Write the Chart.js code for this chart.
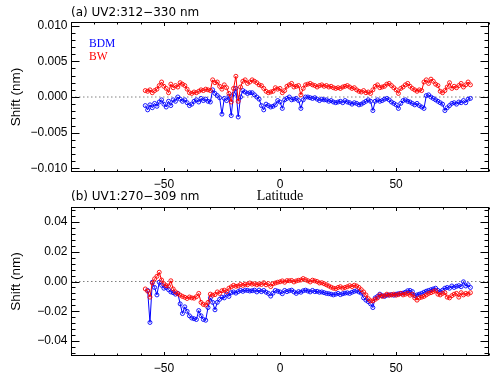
<!DOCTYPE html>
<html>
<head>
<meta charset="utf-8">
<script src="https://cdn.jsdelivr.net/npm/chart.js@4"></script>
<style>
    html, body { margin: 0; padding: 0; background: #fff; }
    #wrap { position: relative; width: 500px; height: 379px; overflow: hidden; }
    canvas { position: absolute; left: 0; }
    #chartA { top: 0; }
    #chartB { top: 190px; }
</style>
</head>
<body>
<div id="wrap">
    <canvas id="chartA" width="500" height="205"></canvas>
    <canvas id="chartB" width="500" height="189"></canvas>
</div>
<script>
// --- Data ---
const latitude = [
    -58, -57, -56, -55, -54, -53, -52, -51, -50, -49,
    -48, -47, -46, -45, -44, -43, -42, -41, -40, -39,
    -38, -37, -36, -35, -34, -33, -32, -31, -30, -29,
    -28, -27, -26, -25, -24, -23, -22, -21, -20, -19,
    -18, -17, -16, -15, -14, -13, -12, -11, -10, -9,
    -8, -7, -6, -5, -4, -3, -2, -1, 0, 1,
    2, 3, 4, 5, 6, 7, 8, 9, 10, 11,
    12, 13, 14, 15, 16, 17, 18, 19, 20, 21,
    22, 23, 24, 25, 26, 27, 28, 29, 30, 31,
    32, 33, 34, 35, 36, 37, 38, 39, 40, 41,
    42, 43, 44, 45, 46, 47, 48, 49, 50, 51,
    52, 53, 54, 55, 56, 57, 58, 59, 60, 61,
    62, 63, 64, 65, 66, 67, 68, 69, 70, 71,
    72, 73, 74, 75, 76, 77, 78, 79, 80, 81, 82
];

// (a) UV2: 312-330 nm
const bdmUV2 = [
    -0.0012, -0.0018, -0.0011, -0.0015, -0.0009, -0.0013, -0.0007, -0.0004, -0.0010, -0.0014,
    -0.0006, -0.0012, -0.0004, -0.0006, 0.0000, -0.0003, -0.0006, -0.0004, -0.0008, -0.0012,
    -0.0010, -0.0006, -0.0004, -0.0007, -0.0002, -0.0005, -0.0003, -0.0006, -0.0007, 0.0010,
    0.0005, 0.0002, -0.0001, -0.0024, -0.0002, -0.0005, 0.0001, -0.0026, 0.0004, 0.0012,
    -0.0028, 0.0000, 0.0009, 0.0007, 0.0005, 0.0006, 0.0006, 0.0003, 0.0000, -0.0003,
    -0.0012, -0.0018, -0.0010, -0.0012, -0.0014, -0.0013, -0.0011, -0.0005, -0.0007, -0.0016,
    -0.0004, -0.0002, 0.0000, -0.0004, -0.0003, -0.0002, -0.0005, -0.0016, -0.0004, 0.0000,
    0.0000, -0.0001, -0.0002, -0.0001, -0.0003, -0.0005, -0.0003, -0.0004, -0.0004, -0.0006,
    -0.0005, -0.0007, -0.0008, -0.0007, -0.0006, -0.0008, -0.0005, -0.0007, -0.0008, -0.0010,
    -0.0008, -0.0009, -0.0011, -0.0010, -0.0008, -0.0006, -0.0004, -0.0006, -0.0019, -0.0006,
    -0.0004, -0.0006, -0.0005, -0.0003, -0.0002, -0.0004, -0.0007, -0.0009, -0.0011, -0.0016,
    -0.0009, -0.0005, -0.0004, -0.0006, -0.0007, -0.0009, -0.0011, -0.0009, -0.0012, -0.0014,
    -0.0016, 0.0002, 0.0003, 0.0000, -0.0002, -0.0004, -0.0006, -0.0008, -0.0010, -0.0019,
    -0.0015, -0.0012, -0.0009, -0.0008, -0.0010, -0.0007, -0.0008, -0.0005, -0.0008, -0.0003, -0.0002
];
const bwUV2 = [
    0.0009, 0.0008, 0.0010, 0.0006, 0.0009, 0.0011, 0.0016, 0.0021, 0.0015, 0.0012,
    0.0006, 0.0018, 0.0013, 0.0016, 0.0014, 0.0020, 0.0018, 0.0016, 0.0011, 0.0006,
    0.0005, 0.0007, 0.0006, 0.0008, 0.0010, 0.0009, 0.0011, 0.0010, 0.0009, 0.0024,
    0.0020, 0.0021, 0.0015, 0.0011, 0.0017, 0.0013, 0.0005, -0.0007, 0.0012, 0.0029,
    -0.0006, 0.0014, 0.0022, 0.0024, 0.0019, 0.0021, 0.0024, 0.0022, 0.0020, 0.0017,
    0.0016, 0.0012, 0.0008, 0.0006, 0.0007, 0.0008, 0.0013, 0.0011, 0.0012, 0.0006,
    0.0009, 0.0015, 0.0017, 0.0019, 0.0014, 0.0015, 0.0016, 0.0003, 0.0012, 0.0017,
    0.0018, 0.0019, 0.0017, 0.0016, 0.0014, 0.0016, 0.0017, 0.0015, 0.0016, 0.0014,
    0.0015, 0.0013, 0.0012, 0.0013, 0.0012, 0.0014, 0.0015, 0.0016, 0.0014, 0.0012,
    0.0013, 0.0010, 0.0008, 0.0007, 0.0009, 0.0006, 0.0007, 0.0005, 0.0010, 0.0015,
    0.0017, 0.0013, 0.0014, 0.0015, 0.0018, 0.0019, 0.0016, 0.0013, 0.0010, 0.0005,
    0.0012, 0.0014, 0.0017, 0.0019, 0.0015, 0.0012, 0.0010, 0.0008, 0.0010, 0.0009,
    0.0021, 0.0024, 0.0019, 0.0025, 0.0022, 0.0018, 0.0016, 0.0008, 0.0006, 0.0009,
    0.0014, 0.0020, 0.0012, 0.0015, 0.0013, 0.0016, 0.0019, 0.0014, 0.0017, 0.0021, 0.0017
];

// (b) UV1: 270-309 nm
const bdmUV1 = [
    null, -0.0060, -0.0275, -0.0005, -0.0040, -0.0090, -0.0005, -0.0025, -0.0045, -0.0040,
    -0.0055, -0.0070, -0.0075, -0.0085, -0.0080, -0.0150, -0.0215, -0.0170, -0.0200, -0.0230,
    -0.0245, -0.0250, -0.0255, -0.0195, -0.0230, -0.0255, -0.0260, -0.0175, -0.0110, -0.0140,
    -0.0190, -0.0140, -0.0120, -0.0105, -0.0110, -0.0085, -0.0100, -0.0075, -0.0070, -0.0078,
    -0.0068, -0.0060, -0.0066, -0.0058, -0.0060, -0.0064, -0.0062, -0.0058, -0.0070, -0.0058,
    -0.0068, -0.0060, -0.0072, -0.0080, -0.0098, -0.0078, -0.0060, -0.0065, -0.0070, -0.0082,
    -0.0060, -0.0068, -0.0062, -0.0058, -0.0070, -0.0080, -0.0068, -0.0072, -0.0062, -0.0058,
    -0.0064, -0.0070, -0.0060, -0.0068, -0.0066, -0.0072, -0.0070, -0.0075, -0.0080, -0.0082,
    -0.0085, -0.0090, -0.0085, -0.0080, -0.0088, -0.0082, -0.0078, -0.0076, -0.0080, -0.0072,
    -0.0066, -0.0062, -0.0070, -0.0078, -0.0110, -0.0125, -0.0135, -0.0150, -0.0175, -0.0110,
    -0.0100, -0.0085, -0.0095, -0.0100, -0.0092, -0.0090, -0.0088, -0.0092, -0.0085, -0.0082,
    -0.0080, -0.0078, -0.0072, -0.0062, -0.0060, -0.0068, -0.0095, -0.0090, -0.0085, -0.0080,
    -0.0072, -0.0065, -0.0060, -0.0055, -0.0050, -0.0045, -0.0060, -0.0068, -0.0058, -0.0045,
    -0.0040, -0.0045, -0.0030, -0.0040, -0.0032, -0.0028, -0.0035, -0.0002, -0.0030, -0.0022, -0.0040
];
const bwUV1 = [
    -0.0050, -0.0065, -0.0105, -0.0010, 0.0018, 0.0035, 0.0062, 0.0010, -0.0015, -0.0028,
    -0.0030, 0.0005, -0.0050, -0.0070, -0.0082, -0.0091, -0.0100, -0.0106, -0.0114, -0.0104,
    -0.0110, -0.0112, -0.0102, -0.0080, -0.0140, -0.0154, -0.0158, -0.0140, -0.0085, -0.0092,
    -0.0088, -0.0070, -0.0080, -0.0062, -0.0058, -0.0068, -0.0045, -0.0036, -0.0026, -0.0032,
    -0.0030, -0.0020, -0.0026, -0.0018, -0.0022, -0.0010, -0.0018, -0.0015, -0.0022, -0.0016,
    -0.0020, -0.0008, -0.0022, -0.0014, -0.0034, -0.0015, -0.0010, -0.0005, -0.0002, 0.0004,
    -0.0005, 0.0006, 0.0005, 0.0007, -0.0003, 0.0004, 0.0008, 0.0010, 0.0020, 0.0012,
    0.0005, -0.0003, 0.0009, 0.0004, 0.0000, -0.0010, -0.0008, -0.0015, -0.0022, -0.0030,
    -0.0038, -0.0045, -0.0048, -0.0040, -0.0035, -0.0045, -0.0040, -0.0035, -0.0028, -0.0034,
    -0.0025, -0.0030, -0.0040, -0.0055, -0.0070, -0.0090, -0.0115, -0.0130, -0.0130, -0.0120,
    -0.0110, -0.0090, -0.0100, -0.0095, -0.0085, -0.0092, -0.0090, -0.0085, -0.0092, -0.0088,
    -0.0080, -0.0090, -0.0085, -0.0080, -0.0092, -0.0085, -0.0110, -0.0125, -0.0110, -0.0105,
    -0.0100, -0.0090, -0.0080, -0.0075, -0.0068, -0.0062, -0.0085, -0.0090, -0.0080, -0.0075,
    -0.0105, -0.0110, -0.0095, -0.0085, -0.0080, -0.0105, -0.0075, -0.0090, -0.0080, -0.0085, -0.0075
];

const latTicks = [-50, 0, 50];
const shiftTicksA = [-0.010, -0.005, 0.000, 0.005, 0.010];
const shiftTicksB = [-0.04, -0.02, 0.00, 0.02, 0.04];

const BLUE = '#0000ff';
const RED = '#ff0000';

Chart.defaults.font.family = "'Liberation Sans', Arial, sans-serif";
Chart.defaults.font.size = 12;
Chart.defaults.color = '#000';

// minus sign like the original plot
const fmt = s => s.replace('-', '\u2212');

// --- Frame, inward ticks and legend drawn on top (IDL look) ---
function stepValues(min, max, step) {
    const out = [];
    const i0 = Math.ceil(min / step - 1e-6);
    const i1 = Math.floor(max / step + 1e-6);
    for (let i = i0; i <= i1; i++) out.push(i * step);
    return out;
}
function isMajor(v, majors, step) {
    return majors.some(m => Math.abs(m - v) < step * 1e-3);
}

const idlAxes = {
    id: 'idlAxes',
    afterDatasetsDraw(chart, args, o) {
        const { ctx, chartArea: a, scales: { x, y } } = chart;
        const L = Math.round(a.left) + 0.5;
        const R = Math.round(a.right) - 0.5;
        const T = Math.round(a.top) + 0.5;
        const B = Math.round(a.bottom) - 0.5;

        ctx.save();
        ctx.strokeStyle = '#000';
        ctx.lineWidth = 1;
        ctx.strokeRect(L, T, R - L, B - T);

        ctx.beginPath();
        stepValues(x.min, x.max, o.xMinor).forEach(v => {
            const p = Math.round(x.getPixelForValue(v)) + 0.5;
            const len = isMajor(v, o.xMajor, o.xMinor) ? 3.5 : 2;
            ctx.moveTo(p, B); ctx.lineTo(p, B - len);
            ctx.moveTo(p, T); ctx.lineTo(p, T + len);
        });
        stepValues(y.min, y.max, o.yMinor).forEach(v => {
            const p = Math.round(y.getPixelForValue(v)) + 0.5;
            const len = isMajor(v, o.yMajor, o.yMinor) ? 8 : 4;
            ctx.moveTo(L, p); ctx.lineTo(L + len, p);
            ctx.moveTo(R, p); ctx.lineTo(R - len, p);
        });
        ctx.stroke();

        if (o.legend) {
            ctx.font = "11.5px 'Liberation Serif', 'Times New Roman', serif";
            ctx.textAlign = 'left';
            ctx.textBaseline = 'middle';
            chart.data.datasets.filter(d => d.label).forEach((d, i) => {
                ctx.fillStyle = d.borderColor;
                ctx.fillText(d.label, o.legend.x, o.legend.y + i * o.legend.gap);
            });
        }
        ctx.restore();
    }
};

function toPoints(ys) {
    return latitude.map((lat, i) => ({ x: lat, y: ys[i] }));
}

function seriesStyle(color) {
    return {
        borderColor: color,
        borderWidth: 1,
        pointRadius: 2,
        pointBorderWidth: 0.9,
        pointBorderColor: color,
        pointBackgroundColor: 'rgba(0,0,0,0)',
        tension: 0,
        spanGaps: false
    };
}

function makePanel(id, p) {
    const config = {
        type: 'line',
        data: {
            datasets: [
                {
                    label: '',
                    data: [{ x: -90, y: 0 }, { x: 90, y: 0 }],
                    borderColor: '#808080',
                    borderWidth: 1,
                    borderDash: [1.5, 2.5],
                    pointRadius: 0,
                    order: 3
                },
                Object.assign({ label: 'BDM', data: toPoints(p.bdm), order: 2 }, seriesStyle(BLUE)),
                Object.assign({ label: 'BW', data: toPoints(p.bw), order: 1 }, seriesStyle(RED))
            ]
        },
        options: {
            responsive: false,
            animation: false,
            events: [],
            layout: { padding: { left: 0, right: 11, top: 0, bottom: 0 } },
            scales: {
                x: {
                    type: 'linear',
                    min: -90,
                    max: 90,
                    grid: { display: false, drawTicks: false },
                    border: { display: false },
                    afterBuildTicks: s => { s.ticks = latTicks.map(v => ({ value: v })); },
                    afterFit: s => { s.height = p.xHeight; },
                    ticks: {
                        padding: 5,
                        maxRotation: 0,
                        autoSkip: false,
                        callback: v => fmt(String(v))
                    },
                    title: {
                        display: p.xTitle,
                        text: 'Latitude',
                        font: { family: "'Liberation Serif', 'Times New Roman', serif", size: 14 },
                        padding: { top: 0, bottom: 0 }
                    }
                },
                y: {
                    type: 'linear',
                    min: p.yMin,
                    max: p.yMax,
                    grid: { display: false, drawTicks: false },
                    border: { display: false },
                    afterBuildTicks: s => { s.ticks = p.yTicks.map(v => ({ value: v })); },
                    afterFit: s => { s.width = 71; },
                    ticks: {
                        padding: 3.5,
                        autoSkip: false,
                        callback: v => fmt(v.toFixed(p.decimals))
                    },
                    title: {
                        display: true,
                        text: 'Shift (nm)',
                        font: { size: 13.5 },
                        padding: { top: 8, bottom: 0 }
                    }
                }
            },
            plugins: {
                legend: { display: false },
                tooltip: { enabled: false },
                title: {
                    display: true,
                    text: p.title,
                    align: 'start',
                    fullSize: false,
                    color: '#000',
                    font: { family: "'DejaVu Sans', sans-serif", size: 12, weight: 'normal' },
                    padding: p.titlePad
                },
                idlAxes: {
                    xMajor: latTicks,
                    xMinor: 10,
                    yMajor: p.yMajor,
                    yMinor: p.yMinor,
                    legend: p.legend
                }
            }
        },
        plugins: [idlAxes]
    };
    return new Chart(document.getElementById(id), config);
}

makePanel('chartA', {
    title: '(a) UV2:312\u2212330 nm',
    titlePad: { top: 5.8, bottom: 1.8 },
    bdm: bdmUV2,
    bw: bwUV2,
    yMin: -0.0105,
    yMax: 0.0105,
    yTicks: shiftTicksA,
    yMajor: shiftTicksA,
    yMinor: 0.001,
    decimals: 3,
    xHeight: 33,
    xTitle: true,
    legend: { x: 89, y: 43.5, gap: 13.5 }
});

makePanel('chartB', {
    title: '(b) UV1:270\u2212309 nm',
    titlePad: { top: 0, bottom: 2.6 },
    bdm: bdmUV1,
    bw: bwUV1,
    yMin: -0.05,
    yMax: 0.05,
    yTicks: shiftTicksB,
    yMajor: shiftTicksB,
    yMinor: 0.004,
    decimals: 2,
    xHeight: 23,
    xTitle: false,
    legend: null
});
</script>
</body>
</html>
